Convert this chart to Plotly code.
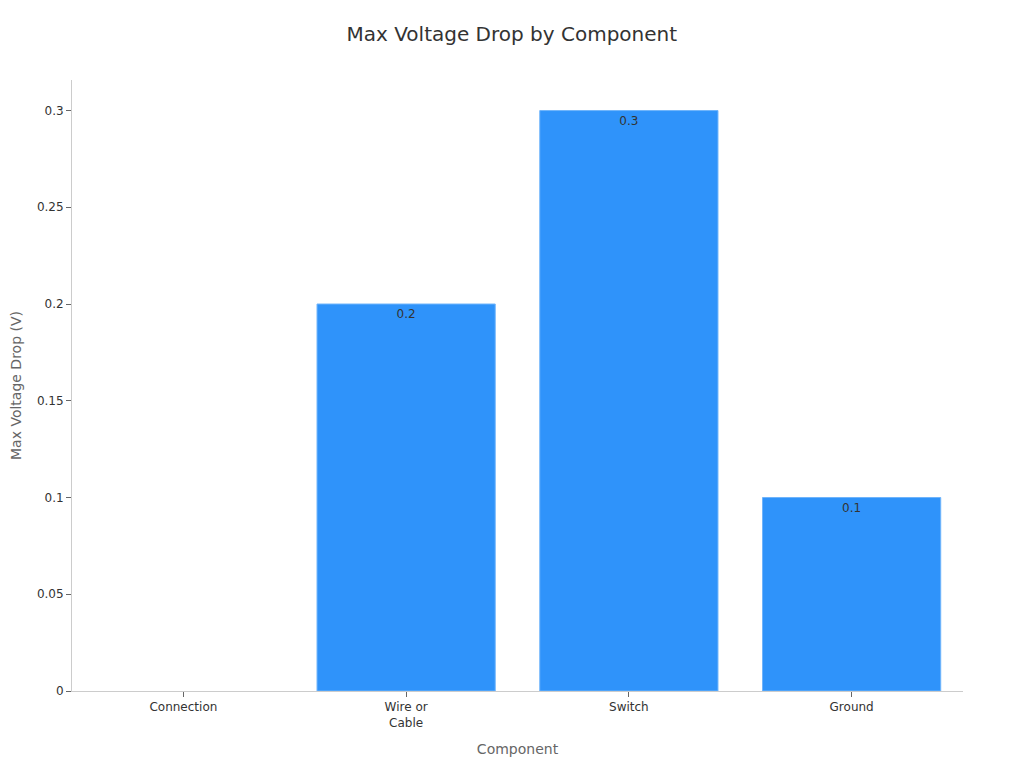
import plotly.graph_objects as go

components = ["Connection", "Wire or<br>Cable", "Switch", "Ground"]
max_drop = [0, 0.2, 0.3, 0.1]
labels = ["", "0.2", "0.3", "0.1"]

fig = go.Figure()
fig.add_trace(go.Bar(
    x=components, y=max_drop,
    text=labels, textposition="inside", insidetextanchor="end",
    textfont=dict(color="#333333", size=12),
    marker=dict(color="#2F93FA", line=dict(color="#6FB4FB", width=[0, 1, 1, 1])),
))
fig.update_layout(
    template="plotly_white",
    width=1024, height=768,
    title=dict(text="Max Voltage Drop by Component", x=0.492, xanchor="center", y=0.975,
               font=dict(size=20, color="#333333")),
    font=dict(family="DejaVu Sans, sans-serif", color="#333333"),
    # page body adds an 8px offset, so margins are shifted to compensate
    margin=dict(l=64, r=69, t=72, b=85),
    bargap=0.2,
    showlegend=False,
    plot_bgcolor="white",
)
fig.update_xaxes(title=dict(text="Component", font=dict(size=14, color="#666666")),
                 showline=True, linecolor="#cccccc", showgrid=False, automargin=False,
                 ticks="outside", ticklen=5, tickcolor="#666666", tickfont=dict(size=12))
fig.update_yaxes(title=dict(text="Max Voltage Drop (V)", font=dict(size=14, color="#666666")),
                 showline=True, linecolor="#cccccc", showgrid=False, zeroline=False,
                 automargin=False,
                 ticks="outside", ticklen=5, tickcolor="#666666", tickfont=dict(size=12),
                 dtick=0.05)
fig.write_html("out.html")
